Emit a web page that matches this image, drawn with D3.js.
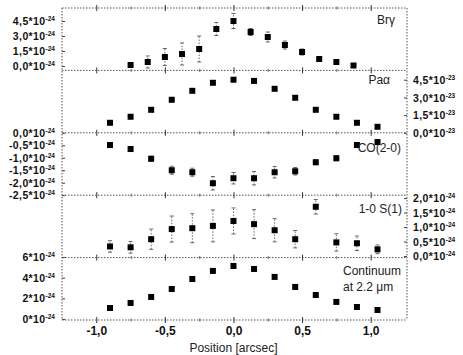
<!DOCTYPE html>
<html>
<head>
<meta charset="utf-8">
<script src="https://cdn.jsdelivr.net/npm/d3@7"></script>
<style>
body { margin: 0; background: #fff; }
svg { display: block; font-family: "Liberation Sans", Arial, sans-serif; }
</style>
</head>
<body>
<div id="d3"></div>
<script>
// positions (arcsec)
const pos_main = [-0.9, -0.75, -0.6, -0.45, -0.3, -0.15, 0, 0.15, 0.3, 0.45, 0.6, 0.75, 0.9, 1.05];
const pos_brg = [-0.75, -0.625, -0.5, -0.375, -0.25, -0.125, 0, 0.125, 0.25, 0.375, 0.5, 0.625, 0.75, 0.875];

// Br gamma, units 1e-24
const brg_val = [0.1, 0.4, 0.9, 1.2, 1.7, 3.7, 4.5, 3.4, 2.9, 2.1, 1.4, 0.7, 0.4, 0.05];
const brg_err = [0.2, 0.6, 0.85, 1.1, 1.3, 0.65, 0.75, 0.35, 0.5, 0.4, 0.3, 0.25, 0.2, 0.2];
// Pa alpha, units 1e-23
const paa_val = [0.85, 1.36, 1.95, 2.8, 3.56, 4.24, 4.5, 4.4, 3.73, 2.97, 1.95, 1.36, 0.85, 0.51];
const paa_err = [0.1, 0.1, 0.1, 0.1, 0.1, 0.1, 0.15, 0.1, 0.1, 0.1, 0.1, 0.1, 0.1, 0.1];
// CO(2-0), units 1e-24
const co_val = [-0.49, -0.65, -1.04, -1.5, -1.58, -2.02, -1.82, -1.82, -1.58, -1.54, -1.18, -1.02, -0.49, -0.37];
const co_err = [0.1, 0.1, 0.1, 0.16, 0.16, 0.27, 0.23, 0.27, 0.23, 0.15, 0.1, 0.1, 0.1, 0.1];
// 1-0 S(1), units 1e-24
const s1_val = [0.33, 0.3, 0.58, 0.93, 0.96, 1.04, 1.21, 1.1, 0.89, 0.58, 1.7, 0.47, 0.44, 0.23];
const s1_err = [0.2, 0.2, 0.35, 0.45, 0.5, 0.55, 0.45, 0.5, 0.4, 0.3, 0.25, 0.3, 0.25, 0.15];
// continuum at 2.2 um, units 1e-24
const cont_val = [1.06, 1.55, 2.13, 2.9, 3.87, 4.65, 5.13, 4.84, 4.07, 3.1, 2.32, 1.65, 1.16, 0.87];
const cont_err = [0.1, 0.1, 0.1, 0.1, 0.1, 0.1, 0.1, 0.1, 0.1, 0.1, 0.1, 0.1, 0.1, 0.1];

// tick labels
const brg_ticks = [0, 1.5, 3.0, 4.5];
const paa_ticks = [0, 1.5, 3.0, 4.5];
const co_ticks = [0, -0.5, -1.0, -1.5, -2.0, -2.5];
const s1_ticks = [0, 0.5, 1.0, 1.5, 2.0];
const cont_ticks = [0, 2, 4, 6];
const x_ticks = [-1.0, -0.5, 0.0, 0.5, 1.0];

const width = 463, height = 355;
const plot_left = 62, plot_right = 407, plot_top = 8, panel_h = 62.4;

const fmt1 = d => d3.format(".1f")(d).replace("−", "-").replace(".", ",");
const fmt0 = d => d3.format(".0f")(d).replace("−", "-");

const panels = [
    { xs: pos_brg, ys: brg_val, err: brg_err, domain: [-0.44, 5.8], side: "left", ticks: brg_ticks, fmt: fmt1, exp: "-24",
      labels: [{ t: "Brγ", x: 395, y: 24, a: "end" }] },
    { xs: pos_main, ys: paa_val, err: paa_err, domain: [0, 5.29], side: "right", ticks: paa_ticks, fmt: fmt1, exp: "-23",
      labels: [{ t: "Paα", x: 390, y: 84, a: "end" }] },
    { xs: pos_main, ys: co_val, err: co_err, domain: [-2.5, 0], side: "left", ticks: co_ticks, fmt: fmt1, exp: "-24",
      labels: [{ t: "CO(2-0)", x: 401, y: 152, a: "end" }] },
    { xs: pos_main, ys: s1_val, err: s1_err, domain: [-0.055, 2.1], side: "right", ticks: s1_ticks, fmt: fmt1, exp: "-24",
      labels: [{ t: "1-0 S(1)", x: 402, y: 213, a: "end" }] },
    { xs: pos_main, ys: cont_val, err: cont_err, domain: [-0.1, 5.94], side: "left", ticks: cont_ticks, fmt: fmt0, exp: "-24",
      labels: [{ t: "Continuum", x: 343, y: 275, a: "start" }, { t: "at 2.2 μm", x: 343, y: 291, a: "start" }] }
];

const svg = d3.select("#d3").append("svg")
    .attr("width", width)
    .attr("height", height);

const x = d3.scaleLinear().domain([-1.25, 1.265]).range([plot_left, plot_right]);

// frame lines (dotted, like the scan)
const plot_bottom = plot_top + panels.length * panel_h;
[plot_left, plot_right].forEach(xx => {
    svg.append("line")
        .attr("x1", xx).attr("x2", xx).attr("y1", plot_top).attr("y2", plot_bottom)
        .attr("stroke", "#555").attr("stroke-width", 1).attr("stroke-dasharray", "1.5,1.5");
});
for (let i = 0; i <= panels.length; i++) {
    const yy = plot_top + i * panel_h;
    svg.append("line")
        .attr("x1", plot_left).attr("x2", plot_right).attr("y1", yy).attr("y2", yy)
        .attr("stroke", "#555").attr("stroke-width", 1).attr("stroke-dasharray", "1.5,1.5");
    // x ticks across each boundary
    const g = svg.append("g").attr("transform", `translate(0,${yy - 3})`);
    g.call(d3.axisBottom(x).tickValues(x_ticks).tickSize(6).tickFormat(""));
    g.select(".domain").remove();
    g.selectAll("line").attr("stroke", "#333");
    const gm = svg.append("g").attr("transform", `translate(0,${yy - 1.5})`);
    gm.call(d3.axisBottom(x).tickValues([-0.75, -0.25, 0.25, 0.75]).tickSize(3).tickFormat(""));
    gm.select(".domain").remove();
    gm.selectAll("line").attr("stroke", "#666");
}

panels.forEach((p, i) => {
    const y = d3.scaleLinear().domain(p.domain).range([plot_top + (i + 1) * panel_h, plot_top + i * panel_h]);
    const is_left = p.side === "left";
    const axis = (is_left ? d3.axisLeft(y) : d3.axisRight(y))
        .tickValues(p.ticks).tickSizeInner(-3).tickSizeOuter(0).tickFormat("");
    const g = svg.append("g")
        .attr("transform", `translate(${is_left ? plot_left : plot_right},0)`)
        .call(axis);
    g.select(".domain").remove();
    g.selectAll(".tick line").attr("stroke", "#444");
    g.selectAll(".tick text").remove();
    const t = g.selectAll(".tick").append("text")
        .attr("x", is_left ? -7 : 6)
        .attr("dy", "0.35em")
        .attr("text-anchor", is_left ? "end" : "start")
        .attr("fill", "#111")
        .style("font-weight", "bold")
        .style("font-size", "10.5px")
        .style("letter-spacing", "0.4px");
    t.append("tspan").text(d => p.fmt(d) + "*10");
    t.append("tspan").attr("dy", -4).style("font-size", "6.5px").style("letter-spacing", "0px").text(p.exp);

    const pts = p.xs.map((xv, k) => ({ x: xv, y: p.ys[k], e: p.err[k] }));

    // error bars
    const eb = svg.append("g").attr("stroke", "#666").attr("stroke-width", 1);
    eb.selectAll("line.bar").data(pts).enter().append("line")
        .attr("class", "bar")
        .attr("x1", d => x(d.x)).attr("x2", d => x(d.x))
        .attr("y1", d => y(d.y - d.e)).attr("y2", d => y(d.y + d.e))
        .attr("stroke-dasharray", "1.5,1.5");
    eb.selectAll("line.capt").data(pts).enter().append("line")
        .attr("class", "capt")
        .attr("x1", d => x(d.x) - 2).attr("x2", d => x(d.x) + 2)
        .attr("y1", d => y(d.y + d.e)).attr("y2", d => y(d.y + d.e));
    eb.selectAll("line.capb").data(pts).enter().append("line")
        .attr("class", "capb")
        .attr("x1", d => x(d.x) - 2).attr("x2", d => x(d.x) + 2)
        .attr("y1", d => y(d.y - d.e)).attr("y2", d => y(d.y - d.e));

    // squares
    svg.append("g").selectAll("rect").data(pts).enter().append("rect")
        .attr("x", d => x(d.x) - 3)
        .attr("y", d => y(d.y) - 3)
        .attr("width", 6).attr("height", 6)
        .attr("fill", "#000");

    p.labels.forEach(l => {
        svg.append("text")
            .attr("x", l.x).attr("y", l.y)
            .attr("text-anchor", l.a)
            .attr("fill", "#222")
            .style("font-size", "12px")
            .text(l.t);
    });
});

// x axis labels
const gx = svg.append("g").attr("transform", `translate(0,${plot_bottom})`)
    .call(d3.axisBottom(x).tickValues(x_ticks).tickSize(0).tickPadding(6).tickFormat(fmt1));
gx.select(".domain").remove();
gx.selectAll("text")
    .attr("fill", "#111")
    .style("font-size", "12px")
    .style("font-weight", "bold")
    .style("font-family", "'Liberation Sans', Arial, sans-serif");

svg.append("text")
    .attr("x", x(0)).attr("y", 352)
    .attr("text-anchor", "middle")
    .attr("fill", "#222")
    .style("font-size", "12px")
    .text("Position [arcsec]");
</script>
</body>
</html>
